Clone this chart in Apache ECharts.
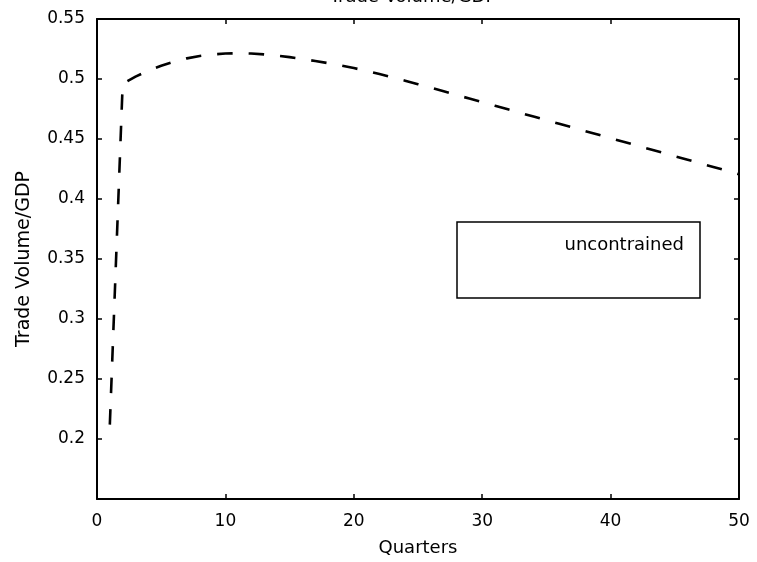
<!DOCTYPE html>
<html>
<head>
<meta charset="utf-8">
<script src="https://cdn.jsdelivr.net/npm/echarts@6/dist/echarts.min.js"></script>
<style>html,body{margin:0;padding:0;background:#fff;}#c{width:757px;height:562px;}</style>
</head>
<body>
<div id="c"></div>
<script>
const quarters = [1,2,3,4,5,6,7,8,9,10,11,12,13,14,15,16,17,18,19,20,21,22,23,24,25,26,27,28,29,30,31,32,33,34,35,36,37,38,39,40,41,42,43,44,45,46,47,48,49,50];
const tradeVolume = [0.212,0.496,0.502,0.507,0.511,0.5145,0.5172,0.5192,0.5205,0.5212,0.5214,0.5212,0.5205,0.5195,0.5182,0.5167,0.515,0.5132,0.5113,0.5091,0.5068,0.5042,0.5014,0.4986,0.4957,0.4927,0.4897,0.4867,0.4837,0.4807,0.4777,0.4747,0.4717,0.4687,0.4657,0.4627,0.4597,0.4567,0.4537,0.4507,0.4477,0.4447,0.4417,0.4387,0.4357,0.4327,0.4297,0.4267,0.4237,0.4207];
const seriesName = 'uncontrained';
const titleText = 'Trade Volume/GDP';
const xLabel = 'Quarters';
const yLabel = 'Trade Volume/GDP';

const font = '"DejaVu Sans", sans-serif';
const chart = echarts.init(document.getElementById('c'));
function axisBase(extra) {
  return Object.assign({
    axisLine: {show: true, onZero: false, lineStyle: {color: '#000', width: 2}},
    axisTick: {show: true, inside: true, length: 5, lineStyle: {color: '#000', width: 1.5}},
    splitLine: {show: false}
  }, extra);
}
chart.setOption({
  animation: false,
  backgroundColor: '#fff',
  title: {text: titleText, left: 408, textAlign: 'center', top: -17,
    textStyle: {fontFamily: font, fontSize: 18, fontWeight: 'normal', color: '#000'}},
  grid: {left: 97, right: 18, top: 19, bottom: 63},
  xAxis: [
    axisBase({type: 'value', min: 0, max: 50, interval: 10, position: 'bottom',
      name: xLabel, nameLocation: 'middle', nameGap: 40,
      nameTextStyle: {fontFamily: font, fontSize: 18, color: '#000'},
      axisLabel: {fontFamily: font, fontSize: 17, color: '#000', margin: 14}}),
    axisBase({type: 'value', min: 0, max: 50, interval: 10, position: 'top',
      axisLabel: {show: false}})
  ],
  yAxis: [
    axisBase({type: 'value', min: 0.15, max: 0.55, interval: 0.05, position: 'left',
      name: yLabel, nameLocation: 'middle', nameGap: 63,
      nameTextStyle: {fontFamily: font, fontSize: 19, color: '#000'},
      axisLabel: {fontFamily: font, fontSize: 17, color: '#000', margin: 12,
        formatter: v => (v < 0.16 ? '' : String(Math.round(v * 100) / 100))}}),
    axisBase({type: 'value', min: 0.15, max: 0.55, interval: 0.05, position: 'right',
      axisLabel: {show: false}})
  ],
  series: [{
    name: seriesName, type: 'line', symbol: 'none',
    data: quarters.map((q, i) => [q, tradeVolume[i]]),
    lineStyle: {color: '#000', width: 2.6, type: [15.5, 16]}
  }],
  graphic: [
    {type: 'rect', shape: {x: 457, y: 222, width: 243, height: 76},
      style: {fill: '#fff', stroke: '#000', lineWidth: 1.5}, z: 100},
    {type: 'text', x: 684, y: 245,
      style: {text: seriesName, fill: '#000', font: '18px ' + font, textAlign: 'right', textVerticalAlign: 'middle'}, z: 101}
  ]
});
</script>
</body>
</html>
